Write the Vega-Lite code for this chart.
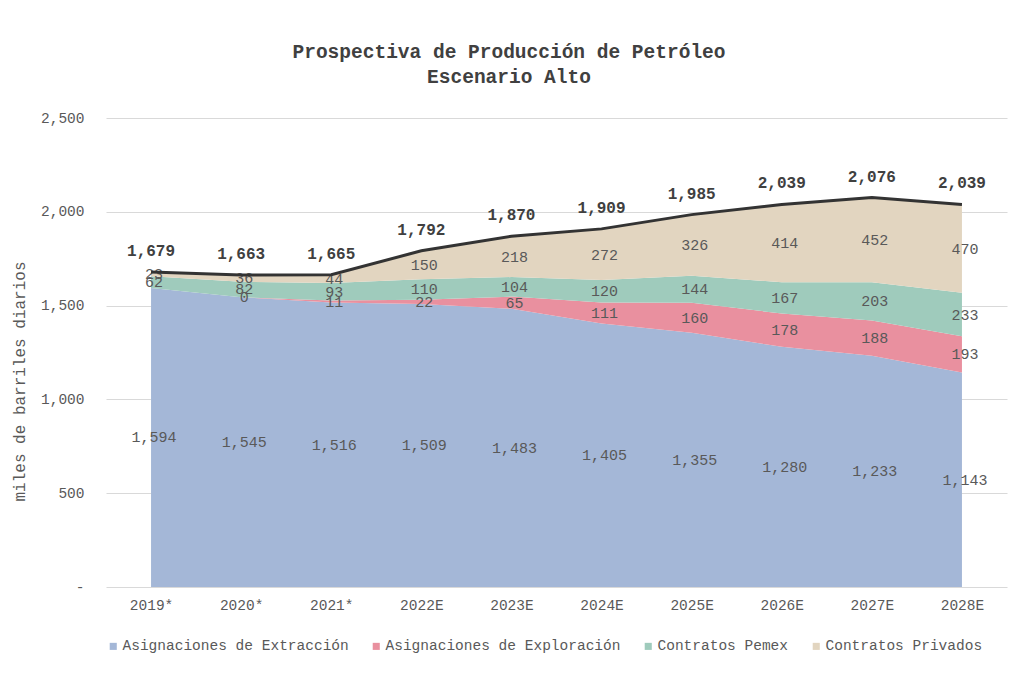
{
  "$schema": "https://vega.github.io/schema/vega-lite/v6.json",
  "width": 901,
  "height": 469,
  "autosize": {"type": "none"},
  "padding": {"left": 106, "top": 118, "right": 17, "bottom": 93},
  "background": "white",
  "title": {
    "text": ["Prospectiva de Producción de Petróleo", "Escenario Alto"],
    "font": "Liberation Mono",
    "fontSize": 19.5,
    "fontWeight": "bold",
    "color": "#404040",
    "anchor": "middle",
    "frame": "bounds",
    "lineHeight": 25,
    "offset": 23
  },
  "datasets": {
    "series": [
      {"anio": "2019*", "serie": "Asignaciones de Extracción", "orden": 1, "valor": 1594},
      {"anio": "2020*", "serie": "Asignaciones de Extracción", "orden": 1, "valor": 1545},
      {"anio": "2021*", "serie": "Asignaciones de Extracción", "orden": 1, "valor": 1516},
      {"anio": "2022E", "serie": "Asignaciones de Extracción", "orden": 1, "valor": 1509},
      {"anio": "2023E", "serie": "Asignaciones de Extracción", "orden": 1, "valor": 1483},
      {"anio": "2024E", "serie": "Asignaciones de Extracción", "orden": 1, "valor": 1405},
      {"anio": "2025E", "serie": "Asignaciones de Extracción", "orden": 1, "valor": 1355},
      {"anio": "2026E", "serie": "Asignaciones de Extracción", "orden": 1, "valor": 1280},
      {"anio": "2027E", "serie": "Asignaciones de Extracción", "orden": 1, "valor": 1233},
      {"anio": "2028E", "serie": "Asignaciones de Extracción", "orden": 1, "valor": 1143},
      {"anio": "2020*", "serie": "Asignaciones de Exploración", "orden": 2, "valor": 0},
      {"anio": "2021*", "serie": "Asignaciones de Exploración", "orden": 2, "valor": 11},
      {"anio": "2022E", "serie": "Asignaciones de Exploración", "orden": 2, "valor": 22},
      {"anio": "2023E", "serie": "Asignaciones de Exploración", "orden": 2, "valor": 65},
      {"anio": "2024E", "serie": "Asignaciones de Exploración", "orden": 2, "valor": 111},
      {"anio": "2025E", "serie": "Asignaciones de Exploración", "orden": 2, "valor": 160},
      {"anio": "2026E", "serie": "Asignaciones de Exploración", "orden": 2, "valor": 178},
      {"anio": "2027E", "serie": "Asignaciones de Exploración", "orden": 2, "valor": 188},
      {"anio": "2028E", "serie": "Asignaciones de Exploración", "orden": 2, "valor": 193},
      {"anio": "2019*", "serie": "Contratos Pemex", "orden": 3, "valor": 62},
      {"anio": "2020*", "serie": "Contratos Pemex", "orden": 3, "valor": 82},
      {"anio": "2021*", "serie": "Contratos Pemex", "orden": 3, "valor": 93},
      {"anio": "2022E", "serie": "Contratos Pemex", "orden": 3, "valor": 110},
      {"anio": "2023E", "serie": "Contratos Pemex", "orden": 3, "valor": 104},
      {"anio": "2024E", "serie": "Contratos Pemex", "orden": 3, "valor": 120},
      {"anio": "2025E", "serie": "Contratos Pemex", "orden": 3, "valor": 144},
      {"anio": "2026E", "serie": "Contratos Pemex", "orden": 3, "valor": 167},
      {"anio": "2027E", "serie": "Contratos Pemex", "orden": 3, "valor": 203},
      {"anio": "2028E", "serie": "Contratos Pemex", "orden": 3, "valor": 233},
      {"anio": "2019*", "serie": "Contratos Privados", "orden": 4, "valor": 23},
      {"anio": "2020*", "serie": "Contratos Privados", "orden": 4, "valor": 36},
      {"anio": "2021*", "serie": "Contratos Privados", "orden": 4, "valor": 44},
      {"anio": "2022E", "serie": "Contratos Privados", "orden": 4, "valor": 150},
      {"anio": "2023E", "serie": "Contratos Privados", "orden": 4, "valor": 218},
      {"anio": "2024E", "serie": "Contratos Privados", "orden": 4, "valor": 272},
      {"anio": "2025E", "serie": "Contratos Privados", "orden": 4, "valor": 326},
      {"anio": "2026E", "serie": "Contratos Privados", "orden": 4, "valor": 414},
      {"anio": "2027E", "serie": "Contratos Privados", "orden": 4, "valor": 452},
      {"anio": "2028E", "serie": "Contratos Privados", "orden": 4, "valor": 470}
    ],
    "totales": [
      {"anio": "2019*", "total": 1679},
      {"anio": "2020*", "total": 1663},
      {"anio": "2021*", "total": 1665},
      {"anio": "2022E", "total": 1792},
      {"anio": "2023E", "total": 1870},
      {"anio": "2024E", "total": 1909},
      {"anio": "2025E", "total": 1985},
      {"anio": "2026E", "total": 2039},
      {"anio": "2027E", "total": 2076},
      {"anio": "2028E", "total": 2039}
    ]
  },
  "encoding": {
    "x": {
      "field": "anio",
      "type": "ordinal",
      "title": null,
      "scale": {
        "type": "point",
        "padding": 0.5,
        "domain": ["2019*", "2020*", "2021*", "2022E", "2023E", "2024E", "2025E", "2026E", "2027E", "2028E"]
      },
      "axis": {
        "labelAngle": 0,
        "ticks": false,
        "domain": false,
        "grid": false,
        "labelPadding": 11,
        "labelFont": "Liberation Mono",
        "labelFontSize": 14.5,
        "labelColor": "#595959"
      }
    }
  },
  "layer": [
    {
      "data": {"name": "series"},
      "transform": [
        {"stack": "valor", "groupby": ["anio"], "sort": [{"field": "orden"}], "as": ["v0", "v1"]}
      ],
      "mark": {"type": "area", "opacity": 1, "interpolate": "linear"},
      "encoding": {
        "y": {
          "field": "v1",
          "type": "quantitative",
          "scale": {"domain": [0, 2500], "nice": false, "zero": true},
          "title": "miles de barriles diarios",
          "axis": {
            "values": [0, 500, 1000, 1500, 2000, 2500],
            "labelExpr": "datum.value == 0 ? '-' : format(datum.value, ',')",
            "grid": true,
            "gridColor": "#d9d9d9",
            "domain": false,
            "ticks": false,
            "labelPadding": 22,
            "labelFont": "Liberation Mono",
            "labelFontSize": 14.5,
            "labelColor": "#595959",
            "titleFont": "Liberation Mono",
            "titleFontSize": 16,
            "titleFontWeight": "normal",
            "titleColor": "#595959",
            "titleX": -79,
            "titleY": 263
          }
        },
        "y2": {"field": "v0"},
        "color": {
          "field": "serie",
          "type": "nominal",
          "sort": ["Asignaciones de Extracción", "Asignaciones de Exploración", "Contratos Pemex", "Contratos Privados"],
          "scale": {
            "domain": ["Asignaciones de Extracción", "Asignaciones de Exploración", "Contratos Pemex", "Contratos Privados"],
            "range": ["#a4b7d7", "#e9909f", "#9fcbbc", "#e2d5c0"]
          },
          "legend": {
            "title": null,
            "orient": "bottom",
            "direction": "horizontal",
            "offset": 27,
            "padding": 0,
            "symbolType": "square",
            "symbolSize": 50,
            "symbolStrokeWidth": 0,
            "labelFont": "Liberation Mono",
            "labelFontSize": 14.5,
            "labelColor": "#595959",
            "labelOffset": 2,
            "columnPadding": 20,
            "labelLimit": 400
          }
        }
      }
    },
    {
      "data": {"name": "series"},
      "transform": [
        {"stack": "valor", "groupby": ["anio"], "sort": [{"field": "orden"}], "as": ["v0", "v1"]},
        {"calculate": "(datum.v0 + datum.v1) / 2", "as": "medio"}
      ],
      "mark": {"type": "text", "font": "Liberation Mono", "fontSize": 15, "color": "#595959", "dx": 3},
      "encoding": {
        "y": {"field": "medio", "type": "quantitative", "scale": {"domain": [0, 2500], "nice": false, "zero": true}},
        "text": {"field": "valor", "type": "quantitative", "format": ","}
      }
    },
    {
      "data": {"name": "totales"},
      "mark": {"type": "line", "color": "#333333", "strokeWidth": 3},
      "encoding": {
        "y": {"field": "total", "type": "quantitative", "scale": {"domain": [0, 2500], "nice": false, "zero": true}}
      }
    },
    {
      "data": {"name": "totales"},
      "mark": {"type": "text", "font": "Liberation Mono", "fontSize": 16, "fontWeight": "bold", "color": "#404040", "dy": -21},
      "encoding": {
        "y": {"field": "total", "type": "quantitative", "scale": {"domain": [0, 2500], "nice": false, "zero": true}},
        "text": {"field": "total", "type": "quantitative", "format": ","}
      }
    }
  ],
  "config": {
    "view": {"stroke": null}
  }
}
